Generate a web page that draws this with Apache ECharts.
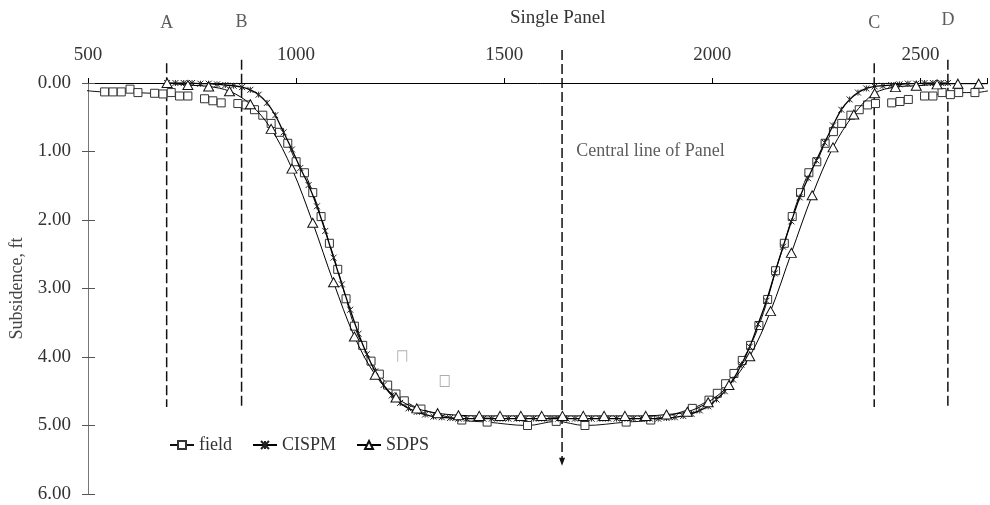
<!DOCTYPE html>
<html>
<head>
<meta charset="utf-8">
<script src="https://cdn.jsdelivr.net/npm/echarts@6/dist/echarts.min.js"></script>
<style>
  html, body { margin: 0; padding: 0; background: #fff; }
  #chart { width: 990px; height: 505px; }
</style>
</head>
<body>
<div id="chart"></div>
<script>
// Subsidence profile across a single longwall panel (distance in ft, subsidence in ft)

// Field survey points ('-' marks a break in the survey line)
const fieldX = [480, 540, 560, 580, 601, 620, 660, 680, 700, 720, 740, 760, 780, 800, 820, 840,
  860, 880, 900, 920, 940, 960, 980, 1000, 1020, 1040, 1060, 1080, 1100, 1120, 1140, 1160, 1180,
  1200, 1220, 1240, 1260, 1300, 1398, 1459, 1556, 1625, 1694, 1793, 1852, 1952, 1992, 2012, 2032,
  2052, 2072, 2092, 2112, 2133, 2152, 2173, 2192, 2212, 2232, 2251, 2271, 2291, 2311, 2333, 2353,
  2373, 2392, 2411, 2431, 2451, 2471, 2490, 2510, 2530, 2552, 2572, 2592, 2631, 2680];
const fieldY = [0.10, 0.13, 0.13, 0.13, 0.09, 0.14, 0.15, 0.16, 0.14, 0.19, 0.19, '-', 0.23, 0.26, 0.29, '-',
  0.30, 0.32, 0.39, 0.47, 0.59, 0.72, 0.88, 1.15, 1.31, 1.60, 1.95, 2.34, 2.72, 3.15, 3.55, 3.83, 4.06,
  4.25, 4.41, 4.54, 4.64, 4.76, 4.92, 4.95, 5.00, 4.94, 5.00, 4.95, 4.92, 4.75, 4.63, 4.53, 4.39,
  4.24, 4.05, 3.83, 3.54, 3.16, 2.74, 2.34, 1.95, 1.60, 1.31, 1.15, 0.88, 0.71, 0.59, 0.47, 0.39,
  0.32, 0.30, '-', 0.29, 0.27, 0.24, '-', 0.19, 0.19, 0.14, 0.17, 0.14, 0.14, 0.09];

// CISPM prediction
const cispmX = [690, 710, 730, 750, 770, 790, 810, 830, 850, 870, 890, 910, 930, 950, 970, 990,
  1010, 1030, 1050, 1070, 1090, 1110, 1130, 1150, 1170, 1190, 1210, 1230, 1250, 1270, 1290, 1310,
  1330, 1350, 1370, 1390, 1410, 1430, 1450, 1470, 1490, 1510, 1530, 1550, 1570, 1590, 1610, 1630,
  1650, 1670, 1690, 1710, 1730, 1750, 1770, 1790, 1810, 1830, 1850, 1870, 1890, 1910, 1930, 1950,
  1970, 1990, 2010, 2030, 2050, 2070, 2090, 2110, 2130, 2150, 2170, 2190, 2210, 2230, 2250, 2270,
  2290, 2310, 2330, 2350, 2370, 2390, 2410, 2430, 2450, 2470, 2490, 2510, 2530, 2550, 2566];
const cispmY = [0.00, 0.00, 0.00, 0.00, 0.01, 0.01, 0.02, 0.03, 0.04, 0.06, 0.10, 0.17, 0.29, 0.47, 0.72, 0.97,
  1.24, 1.49, 1.80, 2.16, 2.55, 2.94, 3.31, 3.66, 3.96, 4.21, 4.41, 4.56, 4.67, 4.75, 4.80, 4.84,
  4.87, 4.88, 4.89, 4.90, 4.90, 4.90, 4.90, 4.90, 4.90, 4.90, 4.90, 4.90, 4.90, 4.90, 4.90, 4.90,
  4.90, 4.90, 4.90, 4.90, 4.90, 4.90, 4.90, 4.90, 4.90, 4.90, 4.90, 4.90, 4.89, 4.88, 4.86, 4.83,
  4.78, 4.72, 4.62, 4.50, 4.33, 4.11, 3.85, 3.52, 3.18, 2.78, 2.39, 2.02, 1.67, 1.39, 1.13, 0.87,
  0.62, 0.39, 0.24, 0.14, 0.08, 0.05, 0.04, 0.03, 0.02, 0.01, 0.01, 0.00, 0.00, 0.00, 0.00];

// SDPS prediction
const sdpsX = [690, 740, 790, 840, 890, 940, 990, 1040, 1090, 1140, 1190, 1240, 1290, 1340, 1390,
  1440, 1490, 1540, 1590, 1640, 1690, 1740, 1790, 1840, 1890, 1940, 1990, 2040, 2090, 2140, 2190,
  2240, 2290, 2340, 2390, 2440, 2490, 2540, 2590, 2640, 2690];
const sdpsY = [0.00, 0.03, 0.05, 0.12, 0.31, 0.67, 1.25, 2.04, 2.91, 3.70, 4.26, 4.59, 4.75, 4.82, 4.85,
  4.86, 4.86, 4.86, 4.86, 4.86, 4.86, 4.86, 4.86, 4.86, 4.84, 4.80, 4.66, 4.41, 3.99, 3.33, 2.48,
  1.64, 0.94, 0.46, 0.15, 0.06, 0.04, 0.02, 0.01, 0.01, 0.01];

// Two stray field readings left off the survey line
const strayX = [1255, 1357];
const strayY = [3.99, 4.35];

// Section boundaries A-D and the panel centre line
const guideNames = ['A', 'B', 'C', 'D'];
const guideX = [689, 869, 2389, 2566];
const guideTop = [-0.29, -0.34, -0.29, -0.34];
const guideBottom = 4.73;
const guideLabelY = [-0.87, -0.88, -0.87, -0.92];
const centreX = 1639;
const centreTop = -0.48;
const centreBottom = 5.53;
const centreLabel = 'Central line of Panel';
const centreLabelPos = [1672, 1.0];

// Axis ticks
const xMin = 500, xMax = 2660, xStep = 500;
const yMin = 0, yMax = 6, yStep = 1;

const SERIF = '"Liberation Serif", "DejaVu Serif", serif';
const TXT = '#333';

const pairs = (xs, ys) => xs.map((x, i) => [x, ys[i]]);

const asterisk = 'path://M0,0L10,10M10,0L0,10M5,0L5,10';

const series = [
  {
    name: 'field', type: 'line', smooth: 0.35, clip: true, connectNulls: false,
    data: pairs(fieldX, fieldY),
    symbol: 'rect', symbolSize: 8,
    itemStyle: { color: '#fff', borderColor: '#333', borderWidth: 1 },
    lineStyle: { color: '#111', width: 1 },
    z: 3
  },
  {
    name: 'CISPM', type: 'line', smooth: 0.35, clip: true,
    data: pairs(cispmX, cispmY),
    symbol: asterisk, symbolSize: 6,
    itemStyle: { color: '#222', borderColor: '#222', borderWidth: 1 },
    lineStyle: { color: '#000', width: 1.3 },
    z: 4
  },
  {
    name: 'SDPS', type: 'line', smooth: 0.35, clip: true,
    data: pairs(sdpsX, sdpsY),
    symbol: 'triangle', symbolSize: [10, 9],
    itemStyle: { color: '#fff', borderColor: '#111', borderWidth: 1 },
    lineStyle: { color: '#000', width: 1 },
    z: 5
  },
  {
    name: 'stray', type: 'scatter', clip: false,
    data: [
      { value: [strayX[0], strayY[0]], symbol: 'path://M0,12L0,0L10,0L10,12' },
      { value: [strayX[1], strayY[1]], symbol: 'path://M0,0L10,0L10,12L0,12Z' }
    ],
    symbolSize: [9, 11],
    itemStyle: { color: 'rgba(0,0,0,0)', borderColor: '#999', borderWidth: 1 },
    z: 2
  }
];

// Dashed boundary lines
guideX.forEach((x, i) => {
  series.push({
    name: 'guide' + guideNames[i], type: 'line', clip: false, symbol: 'none',
    data: [[x, guideTop[i]], [x, guideBottom]],
    lineStyle: { color: '#111', width: 1.5, type: [10, 4] },
    z: 1
  });
});

// Panel centre line with arrow head
series.push({
  name: 'centre', type: 'line', clip: false,
  data: [
    { value: [centreX, centreTop], symbol: 'none' },
    { value: [centreX, centreBottom], symbol: 'triangle', symbolRotate: 180, symbolSize: [6, 8] }
  ],
  symbol: 'triangle',
  itemStyle: { color: '#111', borderWidth: 0 },
  lineStyle: { color: '#111', width: 1.5, type: [10, 4] },
  z: 1
});

// Text annotations
series.push({
  name: 'labels', type: 'scatter', clip: false, symbol: 'circle', symbolSize: 1,
  itemStyle: { color: 'rgba(0,0,0,0)' },
  data: guideNames.map((n, i) => ({ name: n, value: [guideX[i], guideLabelY[i]] }))
    .concat([{ name: centreLabel, value: centreLabelPos,
      label: { position: 'right', distance: 0 } }]),
  label: {
    show: true, position: 'inside', formatter: p => p.name,
    fontFamily: SERIF, fontSize: 18, color: TXT
  },
  z: 6
});

const chart = echarts.init(document.getElementById('chart'), null, { renderer: 'canvas' });
chart.setOption({
  animation: false,
  backgroundColor: '#fff',
  title: {
    text: 'Single Panel', left: 505, top: 4,
    textStyle: { fontFamily: SERIF, fontSize: 19, fontWeight: 'normal', color: TXT }
  },
  legend: {
    data: ['field', 'CISPM', 'SDPS'],
    left: 164, top: 431, itemWidth: 24, itemHeight: 10, itemGap: 20,
    textStyle: { fontFamily: SERIF, fontSize: 18, color: TXT },
    selectedMode: false
  },
  grid: { left: 88, right: 0, top: 83, bottom: 11, containLabel: false },
  xAxis: {
    type: 'value', position: 'top', min: xMin, max: xMax, interval: xStep,
    splitLine: { show: false },
    axisLine: { show: true, onZero: false, lineStyle: { color: '#000', width: 1 } },
    axisTick: { show: true, inside: false, length: 5, lineStyle: { color: '#000' } },
    axisLabel: {
      margin: 18, fontFamily: SERIF, fontSize: 19, color: TXT,
      formatter: v => (v % xStep === 0 ? String(v) : '')
    }
  },
  yAxis: [
    {
      type: 'value', inverse: true, min: yMin, max: yMax, interval: yStep,
      name: 'Subsidence, ft', nameLocation: 'middle', nameGap: 62, nameRotate: 90,
      nameTextStyle: { fontFamily: SERIF, fontSize: 18, color: '#444' },
      splitLine: { show: false },
      axisLine: { show: true, onZero: false, lineStyle: { color: '#777', width: 1 } },
      axisTick: { show: true, inside: false, length: 6, lineStyle: { color: '#555' } },
      axisLabel: {
        margin: 17, fontFamily: SERIF, fontSize: 19, color: TXT,
        formatter: v => v.toFixed(2)
      }
    },
    {
      type: 'value', inverse: true, min: yMin, max: yMax, interval: yStep,
      position: 'left',
      splitLine: { show: false },
      axisLine: { show: false },
      axisTick: { show: true, inside: true, length: 7, lineStyle: { color: '#555' } },
      axisLabel: { show: false }
    }
  ],
  series: series
});
</script>
</body>
</html>
